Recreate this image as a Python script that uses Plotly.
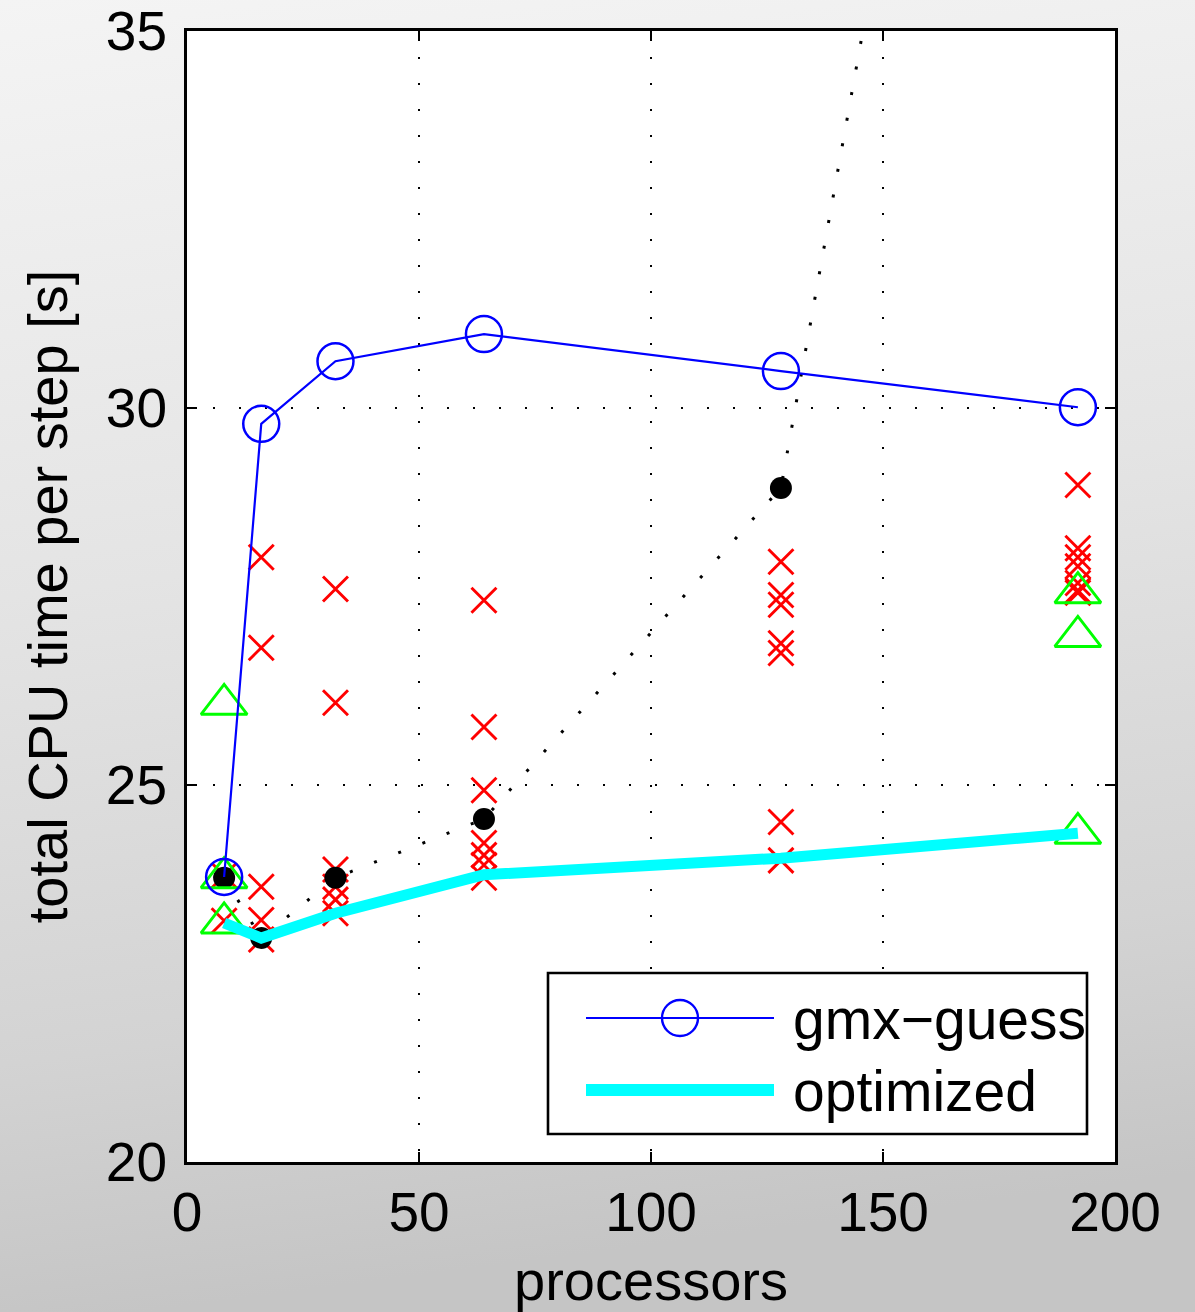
import base64
import plotly.graph_objects as go

# ---------------- data ----------------
procs = [8, 16, 32, 64, 128, 192]
gmx_guess = [23.78, 29.79, 30.62, 30.98, 30.49, 30.01]
optimized = [23.17, 22.97, 23.30, 23.81, 24.03, 24.36]
measured_dots = [23.77, 22.97, 23.77, 24.55, 28.94, 50.9]

runs_x = [8, 8,
          16, 16, 16, 16, 16,
          32, 32, 32, 32, 32, 32,
          64, 64, 64, 64, 64, 64, 64,
          128, 128, 128, 128, 128, 128, 128,
          192, 192, 192, 192, 192, 192, 192]
runs_y = [23.20, 23.80,
          28.02, 26.82, 23.65, 23.21, 22.95,
          27.60, 26.09, 23.88, 23.65, 23.48, 23.30,
          27.45, 25.77, 24.93, 24.23, 24.07, 23.94, 23.77,
          27.96, 27.52, 27.39, 26.88, 26.75, 24.51, 24.00,
          28.98, 28.14, 28.02, 27.90, 27.68, 27.58, 27.55]

tri_x = [8, 8, 8, 192, 192, 192]
tri_y = [26.07, 23.77, 23.17, 27.55, 26.97, 24.36]

x_ticks = [0, 50, 100, 150, 200]
y_ticks = [20, 25, 30, 35]
legend_names = ["gmx\u2212guess", "optimized"]

FONT = "Liberation Sans, Arial, Helvetica, sans-serif"

fig = go.Figure()

fig.add_trace(go.Scatter(x=runs_x, y=runs_y, mode="markers",
                         marker=dict(symbol="x-thin", size=25, color="#ff0000",
                                     line=dict(color="#ff0000", width=2.9)),
                         showlegend=False))
fig.add_trace(go.Scatter(x=procs, y=measured_dots, mode="lines+markers",
                         line=dict(color="black", width=3, dash="3px,23px"),
                         marker=dict(symbol="circle", size=22, color="black"),
                         showlegend=False))
fig.add_trace(go.Scatter(x=tri_x, y=tri_y, mode="markers",
                         marker=dict(symbol="triangle-up-open", size=40, color="#00ff00",
                                     line=dict(color="#00ff00", width=2.9)),
                         showlegend=False))
fig.add_trace(go.Scatter(x=procs, y=gmx_guess, mode="lines+markers",
                         line=dict(color="#0000ff", width=2.2),
                         marker=dict(symbol="circle-open", size=36, color="#0000ff",
                                     line=dict(color="#0000ff", width=2.5)),
                         showlegend=False))
fig.add_trace(go.Scatter(x=procs, y=optimized, mode="lines",
                         line=dict(color="#00ffff", width=11),
                         showlegend=False))

L, R, T, B = 187, 80, 31, 150
W, H = 1195, 1312
pw, ph = W - L - R, H - T - B

# ---------------- background gradient (plot area left white) ----------------
svg = ('<svg xmlns="http://www.w3.org/2000/svg" width="%d" height="%d">'
       '<defs><linearGradient id="g" x1="0" y1="0" x2="0.12" y2="1">'
       '<stop offset="0" stop-color="#f4f4f4"/>'
       '<stop offset="0.45" stop-color="#e4e4e4"/>'
       '<stop offset="0.8" stop-color="#d3d3d3"/>'
       '<stop offset="1" stop-color="#c5c5c5"/>'
       '</linearGradient></defs>'
       '<rect width="%d" height="%d" fill="url(#g)"/>'
       '<rect x="%d" y="%d" width="%d" height="%d" fill="white"/></svg>'
       % (W, H, W, H, L, T, pw, ph))
src = "data:image/svg+xml;base64," + base64.b64encode(svg.encode()).decode()

axis_common = dict(
    ticks="inside", ticklen=10, tickwidth=2, tickcolor="black",
    showline=True, linecolor="black", linewidth=3, mirror="ticks",
    showgrid=True, gridcolor="black", gridwidth=1.6, griddash="2px,24px",
    zeroline=False, automargin=False,
    tickfont=dict(family=FONT, size=55, color="black"),
)

fig.update_layout(
    width=W, height=H,
    margin=dict(l=L, r=R, t=T, b=B, pad=0),
    paper_bgcolor="#dedede", plot_bgcolor="white",
    showlegend=False,
    xaxis=dict(range=[0, 200], tickvals=x_ticks, ticklabelstandoff=0,
               title=dict(text="processors", font=dict(family=FONT, size=56, color="black"),
                          standoff=22),
               **axis_common),
    yaxis=dict(range=[20, 35], tickvals=y_ticks, ticklabelstandoff=6,
               title=dict(text="total CPU time per step [s]",
                          font=dict(family=FONT, size=56, color="black"), standoff=21),
               **axis_common),
    images=[dict(source=src, xref="paper", yref="paper",
                 x=-L / pw, y=1 + T / ph, sizex=W / pw, sizey=H / ph,
                 xanchor="left", yanchor="top", sizing="stretch", layer="below")],
)

# ---------------- manual legend (pixel -> data helpers) ----------------
def dx(px):
    return (px - L) / pw * 200.0

def dy(py):
    return 20.0 + (T + ph - py) / ph * 15.0

shapes = [
    dict(type="rect", xref="x", yref="y", x0=dx(548), x1=dx(1087), y0=dy(1134), y1=dy(973),
         line=dict(color="black", width=2.6), fillcolor="white", layer="above"),
    dict(type="line", xref="x", yref="y", x0=dx(586), x1=dx(774), y0=dy(1018), y1=dy(1018),
         line=dict(color="#0000ff", width=2.2), layer="above"),
    dict(type="circle", xref="x", yref="y", xsizemode="pixel", ysizemode="pixel",
         xanchor=dx(680), yanchor=dy(1018), x0=-18, x1=18, y0=-18, y1=18,
         line=dict(color="#0000ff", width=2.4), fillcolor="rgba(0,0,0,0)", layer="above"),
    dict(type="line", xref="x", yref="y", x0=dx(586), x1=dx(774), y0=dy(1090), y1=dy(1090),
         line=dict(color="#00ffff", width=12), layer="above"),
]
fig.update_layout(shapes=shapes)
fig.add_annotation(x=dx(791), y=dy(1019), xref="x", yref="y", text=legend_names[0],
                   showarrow=False, xanchor="left", yanchor="middle",
                   font=dict(family=FONT, size=57, color="black"))
fig.add_annotation(x=dx(791), y=dy(1091), xref="x", yref="y", text=legend_names[1],
                   showarrow=False, xanchor="left", yanchor="middle",
                   font=dict(family=FONT, size=57, color="black"))

fig.write_html("out.html",
               config={"displayModeBar": False},
               post_script="document.body.style.margin='0';"
                           "document.body.style.overflow='hidden';")
